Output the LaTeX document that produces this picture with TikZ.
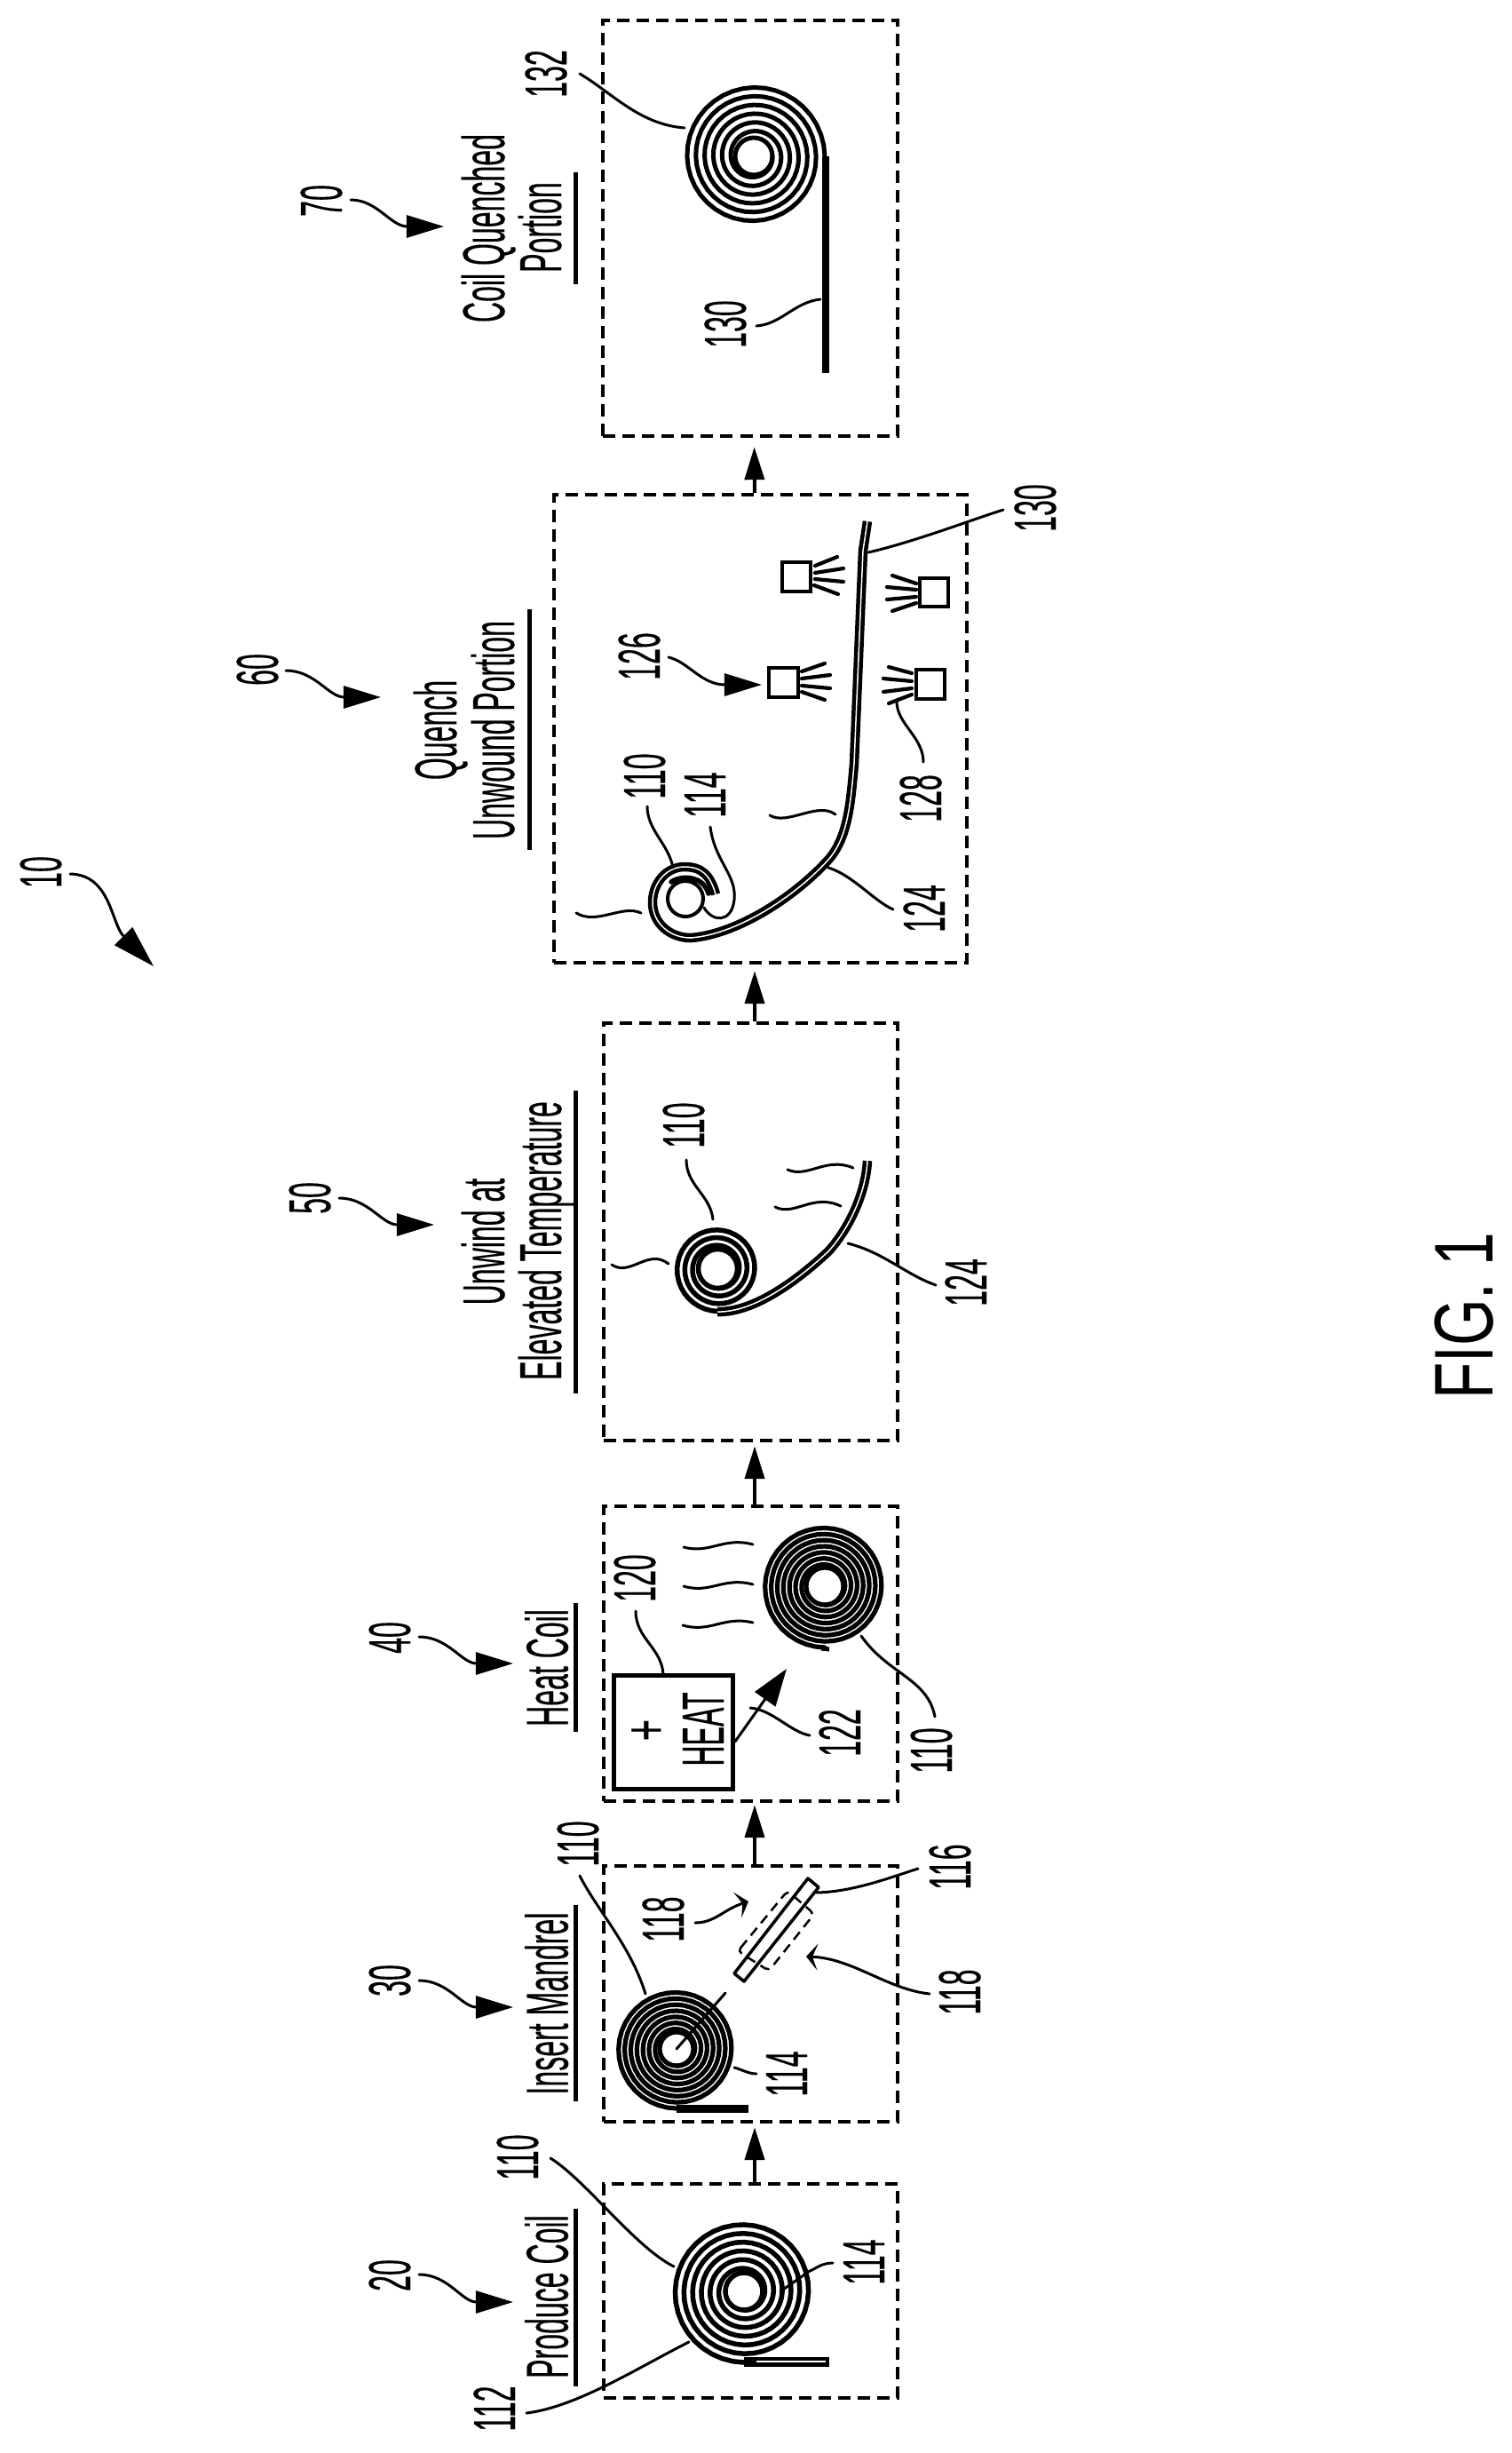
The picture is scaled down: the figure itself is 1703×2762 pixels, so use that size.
\documentclass[tikz,border=0pt]{standalone}
\usepackage{fontspec}
\setmainfont{Liberation Sans}
\newfontfamily\labfont[FakeBold=0.4]{Liberation Sans}
\usetikzlibrary{arrows.meta}
\tikzset{
  lab/.style={rotate=90,xscale=.48,inner sep=0pt,outer sep=0pt,text height=13.65pt,text depth=0pt,font=\labfont\fontsize{19}{19}\selectfont},
  figlab/.style={rotate=90,xscale=.72,inner sep=0pt,outer sep=0pt,text height=19.2pt,text depth=0pt,font=\fontsize{26.7}{27}\selectfont},
  stage/.style={draw,line width=.04cm,dash pattern=on .14cm off .08cm,inner sep=0pt,minimum width=3.31cm},
  flow/.style={line width=.04cm,-{Triangle[length=.37cm,width=.22cm]}},
  lead/.style={line width=.03cm,line cap=round},
  curlarrow/.style={line width=.03cm,line cap=round,-{Triangle[length=.42cm,width=.25cm]}},
  smallarrow/.style={line width=.03cm,line cap=round,-{Stealth[length=.13cm,width=.3cm,inset=.06cm]}},
  uline/.style={line width=.05cm},
  coilstroke/.style={line join=round,line cap=round},
  strip/.style={line width=.045cm,double=white,double distance=.015cm,line join=round},
  nozzle/.style={draw,line width=.042cm,inner sep=0pt,minimum width=.325cm,minimum height=.325cm},
  spray/.style={line width=.042cm,line cap=round}
}
% cx cy r0 r1 turns width: spiral wound outward, ending at the bottom, moving right
\newcommand{\ccwcoil}[6]{%
  \pgfmathsetmacro{\coilT}{360*#5}\pgfmathtruncatemacro{\coilN}{40*#5+1}%
  \draw[line width=#6cm] (#1,#2) circle[radius=#3];
  \draw[coilstroke,line width=#6cm] plot[domain=0:\coilT,samples=\coilN,variable=\a]
   ({#1+(#3+(#4-#3)*(\a/\coilT))*cos(-90-\coilT+\a)},{#2-(#3+(#4-#3)*(\a/\coilT))*sin(-90-\coilT+\a)});}
% spiral wound outward, ending at the right, moving down
\newcommand{\cwcoil}[6]{%
  \pgfmathsetmacro{\coilT}{360*#5}\pgfmathtruncatemacro{\coilN}{40*#5+1}%
  \draw[line width=#6cm] (#1,#2) circle[radius=#3];
  \draw[coilstroke,line width=#6cm] plot[domain=0:\coilT,samples=\coilN,variable=\a]
   ({#1+(#3+(#4-#3)*(\a/\coilT))*cos(-\coilT+\a)},{#2+(#3+(#4-#3)*(\a/\coilT))*sin(-\coilT+\a)});}
% name, style, start, control, control, end
\newcommand{\leader}[6]{%
  \coordinate (#1-a) at (#3);\coordinate (#1-b) at (#6);
  \draw[#2] (#1-a) .. controls (#4) and (#5) .. (#1-b);}
\begin{document}
\begin{tikzpicture}[x=.01cm,y=-.01cm]
\fill[white] (0,0) rectangle (1703,2762);
\useasboundingbox (0,0) rectangle (1703,2762);

% stages
\node[stage,minimum height=2.41cm] (b20) at (845.5,2579.5) {};
\node[stage,minimum height=2.88cm] (b30) at (845.5,2245) {};
\node[stage,minimum height=3.32cm] (b40) at (845.5,1862) {};
\node[stage,minimum height=4.70cm] (b50) at (845.5,1387) {};
\node[stage,minimum width=4.65cm,minimum height=5.27cm] (b60) at (856.5,820.5) {};
\node[stage,minimum height=4.68cm] (b70) at (845,257) {};

% flow arrows
\draw[flow,shorten >=.04cm] ([xshift=.045cm]b20.north) -- ([xshift=.045cm]b30.south);
\draw[flow,shorten >=.02cm] ([xshift=.045cm]b30.north) -- ([xshift=.045cm]b40.south);
\draw[flow,shorten >=.04cm] ([xshift=.045cm]b40.north) -- ([xshift=.045cm]b50.south);
\draw[flow,shorten >=.07cm] ([xshift=.045cm]b50.north) -- ([xshift=-.065cm]b60.south);
\draw[flow,shorten >=.1cm] ([xshift=-.065cm]b60.north) -- ([xshift=.045cm]b70.south);

% titles
\node[lab] (t20) at (615.5,2586) {Produce Coil};
\node[lab] (t30) at (615.5,2256) {Insert Mandrel};
\node[lab] (t40) at (615.5,1878) {Heat Coil};
\node[lab] (t50a) at (544,1398) {Unwind at};
\node[lab] (t50b) at (608,1397) {Elevated Temperature};
\node[lab] (t60a) at (490,822) {Quench};
\node[lab] (t60b) at (555,822) {Unwound Portion};
\node[lab] (t70a) at (544,257) {Coil Quenched};
\node[lab] (t70b) at (608,256) {Portion};
\draw[uline] (648,2487) -- (648,2687);
\draw[uline] (648,2145) -- (648,2366);
\draw[uline] (648,1805) -- (648,1950);
\draw[uline] (648,1228) -- (648,1569);
\draw[uline] (596,686) -- (596,957);
\draw[uline] (648,194) -- (648,320);

% reference numerals with curly arrows
\node[lab] (n10) at (45,982) {10};
\node[lab] (n20) at (438,2562) {20};
\node[lab] (n30) at (438,2230) {30};
\node[lab] (n40) at (438,1844) {40};
\node[lab] (n50) at (348,1349) {50};
\node[lab] (n60) at (289,754) {60};
\node[lab] (n70) at (361,226) {70};
\leader{a10}{curlarrow,-{Triangle[length=.48cm,width=.28cm]}}{79,984}{125,985}{125,1040}{173,1088}
\leader{a20}{curlarrow}{472,2561}{505,2561}{520,2592}{578,2592}
\leader{a30}{curlarrow}{472,2230}{505,2230}{520,2260}{578,2260}
\leader{a40}{curlarrow}{472,1843}{505,1843}{520,1873}{578,1873}
\leader{a50}{curlarrow}{382,1349}{415,1349}{430,1379}{489,1379}
\leader{a60}{curlarrow}{322,755}{355,755}{370,785}{429,785}
\leader{a70}{curlarrow}{395,225}{425,225}{440,255}{500,255}

% box 20
\ccwcoil{838}{2580}{21}{80}{6}{.055}
\draw[line width=.11cm] (838,2659) -- (934,2659);
\draw[white,line width=.018cm] (852,2659) -- (930,2659);
\node[lab] (n110a) at (582,2429) {110};
\node[lab] (n112) at (556,2712) {112};
\node[lab] (n114a) at (972,2547) {114};
\leader{l110a}{lead}{620,2430}{660,2455}{715,2530}{759,2552}
\leader{l112}{lead}{593,2717}{650,2710}{720,2665}{776,2637}
\coordinate (l114a-a) at (938,2548);\coordinate (l114a-b) at (912,2557);\coordinate (l114a-c) at (879,2580);
\draw[lead] (l114a-a) .. controls (925,2548) and (918,2555) .. (l114a-b) -- (l114a-c);

% box 30
\ccwcoil{762}{2307}{19}{67}{7}{.052}
\draw[line width=.09cm] (762,2374) -- (843,2374);
\coordinate (m30-a) at (762,2307);\coordinate (m30-b) at (817,2244);
\draw[lead] (m30-a) -- (m30-b);
\node[lab] (n110b) at (650,2076) {110};
\node[lab] (n114b) at (885,2335) {114};
\node[lab] (n118a) at (746,2161) {118};
\node[lab] (n118b) at (1080,2243) {118};
\node[lab] (n116) at (1069,2102) {116};
\leader{l110b}{lead}{653,2112}{672,2150}{710,2190}{727,2245}
\leader{l114b}{lead}{852,2335}{843,2335}{835,2330}{827,2328}
\leader{l118a}{smallarrow}{783,2165}{805,2165}{815,2150}{843,2141}
\leader{l118b}{smallarrow}{1047,2245}{1000,2240}{960,2205}{908,2203}
\leader{l116}{lead}{1034,2104}{1000,2115}{960,2130}{920,2131}
\draw[line width=.035cm,line join=round] (827,2222) -- (838,2231) -- (922,2125) -- (910,2115) -- cycle;
\draw[line width=.025cm,dash pattern=on .11cm off .07cm,rounded corners=.05cm] (831,2197) -- (887,2129) -- (917,2155) -- (866,2219) -- cycle;

% box 40
\ccwcoil{929}{1786}{21}{69}{7}{.052}
\draw[line width=.05cm] (925,1856) -- (934,1857);
\node[draw,line width=.05cm,inner sep=0pt,minimum width=1.33cm,minimum height=1.27cm] (heat) at (758.5,1950.5) {};
\node[lab,xscale=1.3] (plus) at (726,1948) {+};
\node[lab] (theat) at (791,1947) {HEAT};
\node[lab] (n120) at (714,1777) {120};
\node[lab] (n122) at (945,1951) {122};
\node[lab] (n110c) at (1048,1971) {110};
\coordinate (h-tip) at (886,1879);
\draw[line width=.03cm,-{Triangle[length=.42cm,width=.28cm]}] ([yshift=-.11cm]heat.east) -- (h-tip);
\leader{l120}{lead}{716,1814}{716,1845}{745,1855}{747,1885}
\leader{l122}{lead}{912,1954}{890,1950}{870,1925}{845,1923}
\leader{l110c}{lead}{1053,1933}{1045,1890}{1000,1885}{970,1842}
\leader{w40a}{lead}{770,1742}{800,1750}{815,1730}{848,1739}
\leader{w40b}{lead}{770,1786}{800,1795}{815,1775}{848,1784}
\leader{w40c}{lead}{769,1830}{800,1839}{815,1819}{848,1827}

% box 50
\ccwcoil{808.5}{1428.5}{22}{48}{3}{.055}
\draw[strip] (808,1477) .. controls (850,1478) and (900,1440) .. (933,1409) .. controls (955,1385) and (975,1345) .. (977,1307);
\node[lab] (n110d) at (769,1267) {110};
\node[lab] (n124a) at (1087,1444) {124};
\leader{l110d}{lead}{773,1306}{773,1335}{800,1345}{803,1373}
\leader{l124a}{lead}{1054,1447}{1020,1435}{995,1410}{955,1400}
\leader{w50a}{lead}{689,1424}{710,1438}{730,1405}{753,1423}
\leader{w50b}{lead}{887,1317}{910,1327}{930,1302}{961,1315}
\leader{w50c}{lead}{873,1359}{895,1370}{915,1343}{947,1358}

% box 60
\draw[line width=.04cm] (772,1012) circle[radius=20];
\draw[line width=.055cm,line cap=round] (756,993) .. controls (768,985) and (792,986) .. (798,1006);
\draw[strip] (806,1007) .. controls (800,985) and (790,976) .. (771,976) .. controls (750,976) and (735,995) .. (735,1016) .. controls (735,1040) and (755,1056) .. (778,1056) .. controls (830,1052) and (895,1010) .. (933,968) .. controls (955,943) and (958,905) .. (962,860) -- (972,620) -- (977,587);
\node[nozzle] (qa) at (897,649.5) {};
\node[nozzle] (qb) at (1052,667) {};
\node[nozzle] (qc) at (882.5,768.5) {};
\node[nozzle] (qd) at (1048,770.5) {};
\draw[spray] (918,637) -- (943,627);
\draw[spray] (918,645) -- (950,640);
\draw[spray] (918,652) -- (950,655);
\draw[spray] (917,659) -- (944,669);
\draw[spray] (1032,657) -- (1005,648);
\draw[spray] (1032,664) -- (999,661);
\draw[spray] (1032,672) -- (999,675);
\draw[spray] (1032,679) -- (1005,688);
\draw[spray] (903,756) -- (929,747);
\draw[spray] (903,764) -- (935,760);
\draw[spray] (903,772) -- (935,775);
\draw[spray] (903,779) -- (929,788);
\draw[spray] (1027,758) -- (1001,751);
\draw[spray] (1027,767) -- (995,764);
\draw[spray] (1027,775) -- (995,779);
\draw[spray] (1027,782) -- (1001,792);
\node[lab] (n110e) at (725,874) {110};
\node[lab] (n114c) at (793,895) {114};
\node[lab] (n126) at (719,739) {126};
\node[lab] (n128) at (1036,899) {128};
\node[lab] (n124b) at (1040,1023) {124};
\node[lab] (n130a) at (1165,572) {130};
\leader{l110e}{lead}{729,908}{729,935}{753,950}{758,977}
\coordinate (l114c-a) at (800,931);\coordinate (l114c-b) at (827,1013);\coordinate (l114c-c) at (793,1022);
\draw[lead] (l114c-a) .. controls (805,970) and (830,985) .. (l114c-b) .. controls (824,1040) and (802,1038) .. (l114c-c);
\leader{l124b}{lead}{1006,1024}{985,1015}{960,985}{933,977}
\leader{l130a}{lead}{1130,574}{1095,585}{1030,610}{978,622}
\leader{l128}{lead}{1040,858}{1040,830}{1010,815}{1010,790}
\leader{a126}{curlarrow}{753,740}{775,745}{790,771}{858,771}
\leader{w60a}{lead}{649,1028}{672,1042}{701,1018}{722,1028}
\leader{w60b}{lead}{867,918}{887,930}{921,902}{941,917}

% box 70
\cwcoil{849}{176}{21}{80}{6}{.05}
\draw[line width=.085cm] (930,176) -- (930,420);
\node[lab] (n132) at (614,83) {132};
\node[lab] (n130b) at (816,365) {130};
\leader{l132}{lead}{653,83}{690,105}{720,140}{771,144}
\leader{l130b}{lead}{852,367}{880,365}{895,340}{924,337}

% figure label
\node[figlab] (fig) at (1648,1482) {FIG. 1};
\end{tikzpicture}
\end{document}
